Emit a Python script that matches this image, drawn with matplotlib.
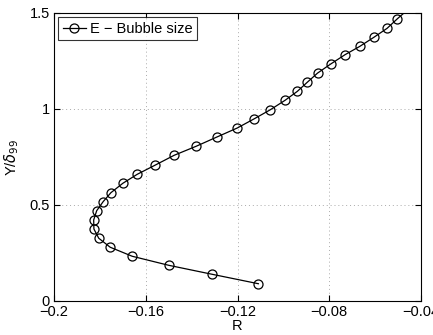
import matplotlib
matplotlib.use("Agg")
import matplotlib.pyplot as plt
from matplotlib.lines import Line2D
from matplotlib.ticker import FixedLocator, FixedFormatter

plt.rcParams['font.family'] = ['Liberation Sans', 'DejaVu Sans']
plt.rcParams['axes.unicode_minus'] = True

# Bubble-size profile: correlation R versus normalised wall distance
R = [-0.1109, -0.1310, -0.1500, -0.1659, -0.1755, -0.1805, -0.1826, -0.1827,
     -0.1814, -0.1786, -0.1752, -0.1700, -0.1637, -0.1560, -0.1476, -0.1380,
     -0.1290, -0.1201, -0.1127, -0.1057, -0.0993, -0.0939, -0.0896, -0.0851,
     -0.0794, -0.0731, -0.0667, -0.0606, -0.0548, -0.0503, -0.0458]
Y = [0.090, 0.139, 0.186, 0.233, 0.280, 0.327, 0.375, 0.422,
     0.470, 0.517, 0.564, 0.613, 0.660, 0.707, 0.759, 0.806,
     0.854, 0.901, 0.949, 0.996, 1.045, 1.092, 1.139, 1.187,
     1.234, 1.283, 1.326, 1.373, 1.420, 1.470, 1.517]

xticks = [-0.2, -0.16, -0.12, -0.08, -0.04]
xticklabels = ['\u22120.2', '\u22120.16', '\u22120.12', '\u22120.08', '\u22120.04']
yticks = [0, 0.5, 1, 1.5]
yticklabels = ['0', '0.5', '1', '1.5']
series_label = 'E \u2212 Bubble size'

YMAX = 1.5
style = dict(color='black', linewidth=0.9, marker='o', markersize=6.5,
             markerfacecolor='none', markeredgecolor='black',
             markeredgewidth=0.9)

fig = plt.figure(figsize=(4.33, 3.35), dpi=100)
ax = fig.add_axes([54/433, 1 - 301/335, (421-54)/433, (301-13)/335])

# markers only where the sample lies inside the plotted range
inside = [i for i, y in enumerate(Y) if y <= YMAX]
ax.plot(R, Y, markevery=inside, **style)

ax.set_xlim(-0.2, -0.04)
ax.set_ylim(0, YMAX)
ax.xaxis.set_major_locator(FixedLocator(xticks))
ax.xaxis.set_major_formatter(FixedFormatter(xticklabels))
ax.yaxis.set_major_locator(FixedLocator(yticks))
ax.yaxis.set_major_formatter(FixedFormatter(yticklabels))

ax.grid(True, color='#aaaaaa', linestyle=(0, (1, 3)), linewidth=0.7)
ax.tick_params(direction='in', top=True, right=True, length=4, width=0.8,
               labelsize=10.5, pad=3)
for s in ax.spines.values():
    s.set_linewidth(0.8)

ax.set_xlabel('R', fontsize=10.5, labelpad=0)
ax.set_ylabel(r'Y/$\delta_{99}$', fontsize=10.5, labelpad=6)

handle = Line2D([], [], **style)
leg = ax.legend([handle], [series_label], loc='upper left', fontsize=10.5,
                frameon=True, fancybox=False, edgecolor='black',
                borderaxespad=0.3, handlelength=1.6, handletextpad=0.3,
                borderpad=0.3, numpoints=1)
leg.get_frame().set_linewidth(0.8)

fig.savefig('out.png', dpi=100)
